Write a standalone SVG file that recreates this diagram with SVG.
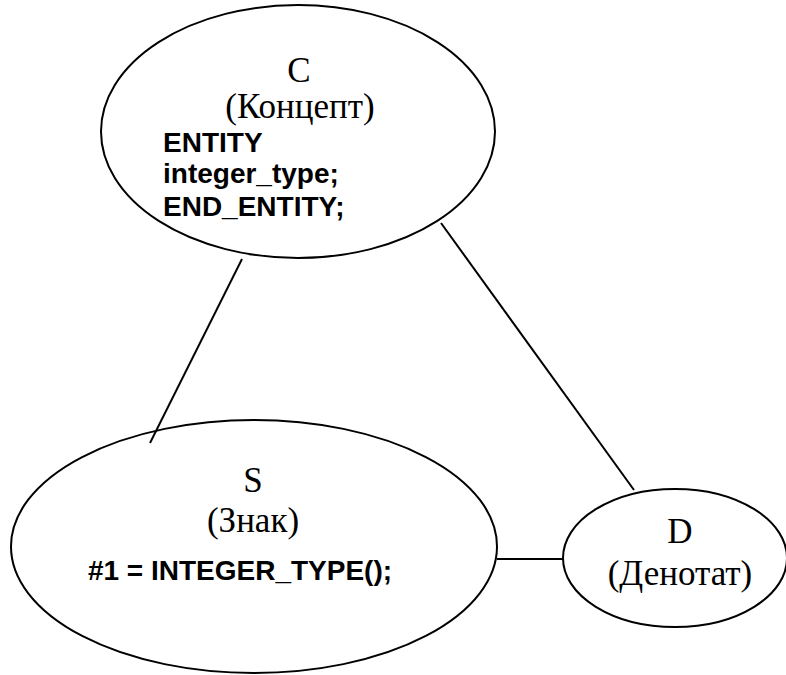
<svg xmlns="http://www.w3.org/2000/svg" width="786" height="675" viewBox="0 0 786 675">
  <style>
    .node { fill: #fff; stroke: #000; stroke-width: 2; }
    .edge { stroke: #000; stroke-width: 2; fill: none; }
    .title { font-family: "Liberation Serif", "Times New Roman", serif; font-size: 35px; fill: #000; text-anchor: middle; }
    .code { font-family: "Liberation Sans", Arial, sans-serif; font-size: 28px; font-weight: bold; fill: #000; }
  </style>
  <rect width="786" height="675" fill="#fff"/>

  <!-- node C: concept -->
  <g id="node-c">
    <ellipse class="node" cx="298" cy="131.5" rx="197" ry="126.5"/>
    <text class="title" x="299" y="82">C</text>
    <text class="title" x="300" y="118">(Концепт)</text>
    <text class="code" x="163" y="152">ENTITY</text>
    <text class="code" x="163" y="183">integer_type;</text>
    <text class="code" x="163" y="216">END_ENTITY;</text>
  </g>

  <!-- node S: sign -->
  <g id="node-s">
    <ellipse class="node" cx="254" cy="546.5" rx="243" ry="126.5"/>
    <text class="title" x="253" y="492">S</text>
    <text class="title" x="253" y="532">(Знак)</text>
    <text class="code" x="240" y="580" text-anchor="middle">#1 = INTEGER_TYPE();</text>
  </g>

  <!-- node D: denotation -->
  <g id="node-d">
    <ellipse class="node" cx="675" cy="558" rx="112" ry="69"/>
    <text class="title" x="680" y="543">D</text>
    <text class="title" x="680" y="585">(Денотат)</text>
  </g>

  <!-- connectors -->
  <g id="edges">
    <line class="edge" x1="242" y1="259" x2="150" y2="443"/>
    <line class="edge" x1="441" y1="223" x2="634" y2="490"/>
    <line class="edge" x1="497" y1="559" x2="564" y2="559"/>
  </g>
</svg>
